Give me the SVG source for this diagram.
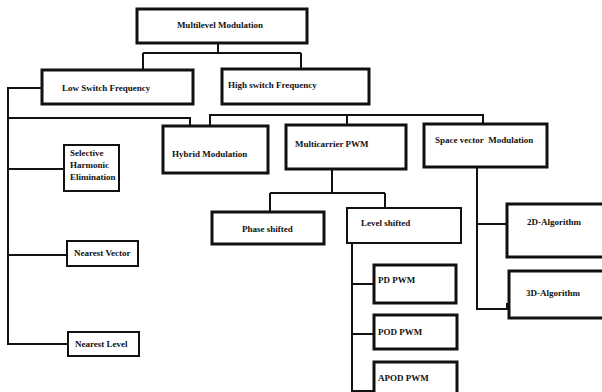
<svg xmlns="http://www.w3.org/2000/svg" width="602" height="392" viewBox="0 0 602 392">
  <style>
    .box { fill: #fff; stroke: #111; stroke-width: 3; }
    .thin { fill: #fff; stroke: #111; stroke-width: 2; }
    .lbl { font-family: "Liberation Serif", "Times New Roman", serif; font-weight: bold; font-size: 9px; fill: #111; }
    .wire { fill: none; stroke: #111; stroke-width: 2; }
  </style>
  <rect width="602" height="392" fill="#fff"/>

  <!-- connectors -->
  <g id="connectors">
    <path class="wire" d="M218 43 V53 M143 53 H301 M143 53 V70 M301 53 V69"/>
    <path class="wire" d="M43 88 H8 V344 H68"/>
    <path class="wire" d="M8 118 H190 V125"/>
    <path class="wire" d="M8 169 H64"/>
    <path class="wire" d="M8 255 H67"/>
    <path class="wire" d="M210 128 V115 H483 V124 M347 115 V124"/>
    <path class="wire" d="M332 169 V193 M270 193 H385 M270 193 V212 M385 193 V208"/>
    <path class="wire" d="M352 243 V392 M352 284 H375 M352 334 H375 M352 391 H375"/>
    <path class="wire" d="M477 167 V310 M477 224 H507 M477 309 H507 V303"/>
  </g>

  <g id="n-multilevel">
    <rect class="box" x="137" y="9" width="170" height="34"/>
    <text class="lbl" x="220" y="28" text-anchor="middle">Multilevel Modulation</text>
  </g>
  <g id="n-low">
    <rect class="box" x="42" y="70" width="151" height="34"/>
    <text class="lbl" x="62" y="91">Low Switch Frequency</text>
  </g>
  <g id="n-high">
    <rect class="box" x="222" y="69" width="147" height="35"/>
    <text class="lbl" x="228" y="88">High switch Frequency</text>
  </g>
  <g id="n-selective">
    <rect class="thin" x="64" y="145" width="55" height="46"/>
    <text class="lbl" x="70" y="156">Selective</text>
    <text class="lbl" x="70" y="168">Harmonic</text>
    <text class="lbl" x="70" y="180">Elimination</text>
  </g>
  <g id="n-nvector">
    <rect class="thin" x="67" y="241" width="71" height="25"/>
    <text class="lbl" x="74" y="256">Nearest Vector</text>
  </g>
  <g id="n-nlevel">
    <rect class="thin" x="68" y="332" width="71" height="24"/>
    <text class="lbl" x="75" y="347">Nearest Level</text>
  </g>
  <g id="n-hybrid">
    <rect class="box" x="163" y="126" width="105" height="47"/>
    <text class="lbl" x="172" y="157">Hybrid Modulation</text>
  </g>
  <g id="n-multicarrier">
    <rect class="box" x="286" y="125" width="120" height="44"/>
    <text class="lbl" x="295" y="147">Multicarrier PWM</text>
  </g>
  <g id="n-space">
    <rect class="box" x="424" y="124" width="123" height="43"/>
    <text class="lbl" x="435" y="143">Space vector&#160; Modulation</text>
  </g>
  <g id="n-phase">
    <rect class="box" x="212" y="212" width="112" height="32"/>
    <text class="lbl" x="242" y="232">Phase shifted</text>
  </g>
  <g id="n-level">
    <rect class="thin" x="347" y="208" width="114" height="35"/>
    <text class="lbl" x="361" y="226">Level shifted</text>
  </g>
  <g id="n-pd">
    <rect class="box" x="374" y="265" width="82" height="38"/>
    <text class="lbl" x="378" y="283">PD PWM</text>
  </g>
  <g id="n-pod">
    <rect class="box" x="374" y="315" width="83" height="34"/>
    <text class="lbl" x="378" y="335">POD PWM</text>
  </g>
  <g id="n-apod">
    <rect class="box" x="374" y="362" width="83" height="34"/>
    <text class="lbl" x="378" y="381">APOD PWM</text>
  </g>
  <g id="n-2d">
    <rect class="box" x="507" y="204" width="98" height="53"/>
    <text class="lbl" x="527" y="225">2D-Algorithm</text>
  </g>
  <g id="n-3d">
    <rect class="box" x="509" y="271" width="96" height="47"/>
    <text class="lbl" x="526" y="296">3D-Algorithm</text>
  </g>
</svg>
